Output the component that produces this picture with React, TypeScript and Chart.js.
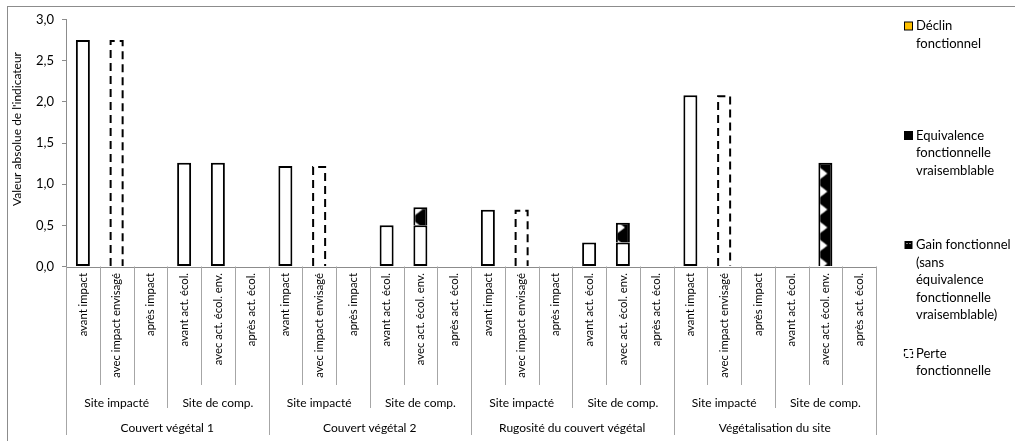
import React, { useEffect, useRef } from "react";
import { Chart, registerables } from "chart.js";
Chart.register(...registerables);

const impactStates = ["avant impact", "avec impact envisagé", "après impact"];
const compStates = ["avant act. écol.", "avec act. écol. env.", "après act. écol."];
const siteLabels = ["Site impacté", "Site de comp."];
const groupLabels = [
  "Couvert végétal 1",
  "Couvert végétal 2",
  "Rugosité du couvert végétal",
  "Végétalisation du site",
];
const yTickValues = [0, 0.5, 1, 1.5, 2, 2.5, 3];
const yTitle = "Valeur absolue de l'indicateur";

// 24 bars: 4 groups x 2 sites x 3 states
const baseValues = [
  2.75, null, null, 1.26, 1.26, null,
  1.22, null, null, 0.5, 0.5, null,
  0.69, null, null, 0.29, 0.29, null,
  2.08, null, null, null, null, null,
];
const perteValues = [
  null, 2.75, null, null, null, null,
  null, 1.22, null, null, null, null,
  null, 0.69, null, null, null, null,
  null, 2.08, null, null, null, null,
];
const gainValues = [
  null, null, null, null, null, null,
  null, null, null, null, 0.22, null,
  null, null, null, null, 0.24, null,
  null, null, null, null, 1.26, null,
];
const equivalenceValues = [
  null, null, null, null, null, null,
  null, null, null, null, null, null,
  null, null, null, null, null, null,
  null, null, null, null, null, null,
];
const declinValues = [
  null, null, null, null, null, null,
  null, null, null, null, null, null,
  null, null, null, null, null, null,
  null, null, null, null, null, null,
];

const declinLines = ["Déclin", "fonctionnel"];
const equivalenceLines = ["Equivalence", "fonctionnelle", "vraisemblable"];
const gainLines = ["Gain fonctionnel", "(sans", "équivalence", "fonctionnelle", "vraisemblable)"];
const perteLines = ["Perte", "fonctionnelle"];

const FONT = "Lato, 'Open Sans', sans-serif";
const GRAY = "#8c8c8c";
const SEP = "#a6a6a6";

function makeGainPattern(ctx: CanvasRenderingContext2D, x: number, y: number) {
  const c = document.createElement("canvas");
  c.width = 14;
  c.height = 18;
  const g = c.getContext("2d")!;
  g.fillStyle = "#000";
  g.fillRect(0, 0, 14, 18);
  g.fillStyle = "#fff";
  g.beginPath();
  g.moveTo(0, 3);
  g.lineTo(9, 10);
  g.lineTo(0, 17);
  g.closePath();
  g.fill();
  const p = ctx.createPattern(c, "repeat")!;
  if ((p as any).setTransform) p.setTransform(new DOMMatrix().translate(x, y));
  return p;
}

const categories: string[][] = [];
groupLabels.forEach((gl) => {
  impactStates.forEach((st) => categories.push([st, siteLabels[0], gl]));
  compStates.forEach((st) => categories.push([st, siteLabels[1], gl]));
});

const chromePlugin = {
  id: "chrome",
  beforeDraw(chart: any) {
    const ctx = chart.ctx;
    ctx.save();
    ctx.fillStyle = "#fff";
    ctx.fillRect(0, 0, chart.width, chart.height);
    ctx.strokeStyle = GRAY;
    ctx.lineWidth = 1;
    ctx.strokeRect(7.5, 6.5, 1200, 600);
    ctx.restore();
  },
  beforeDatasetsDraw(chart: any) {
    const ctx = chart.ctx;
    const { left, right, bottom } = chart.chartArea;
    ctx.save();
    ctx.strokeStyle = GRAY;
    ctx.lineWidth = 1;
    ctx.beginPath();
    ctx.moveTo(left, Math.round(bottom) + 0.5);
    ctx.lineTo(right, Math.round(bottom) + 0.5);
    ctx.stroke();
    ctx.restore();
  },
  afterDatasetsDraw(chart: any) {
    const ctx = chart.ctx;
    // dashed "Perte fonctionnelle" bars
    chart.data.datasets.forEach((ds: any, di: number) => {
      if (!ds.dashed) return;
      const meta = chart.getDatasetMeta(di);
      meta.data.forEach((el: any, i: number) => {
        if (ds.data[i] == null) return;
        const { x, y, base, width } = el.getProps(["x", "y", "base", "width"], true);
        const l = x - width / 2 + 1;
        const r = x + width / 2 - 1;
        const t = y + 1;
        ctx.save();
        ctx.strokeStyle = "#000";
        ctx.lineWidth = 2;
        ctx.setLineDash([8, 5]);
        ctx.beginPath();
        ctx.moveTo(l, base);
        ctx.lineTo(l, t);
        ctx.lineTo(r, t);
        ctx.lineTo(r, base);
        ctx.stroke();
        ctx.restore();
      });
    });

    // multi-level category axis
    const xs = chart.scales.x;
    const { left, right, bottom } = chart.chartArea;
    const n = categories.length;
    const w = (right - left) / n;
    ctx.save();
    ctx.strokeStyle = SEP;
    ctx.lineWidth = 1;
    for (let i = 0; i <= n; i++) {
      const bx = Math.round(left + i * w) + 0.5;
      let end = 385;
      if (i % 6 === 0) end = 435;
      else if (i % 3 === 0) end = 408;
      ctx.beginPath();
      ctx.moveTo(bx, bottom);
      ctx.lineTo(bx, end);
      ctx.stroke();
    }
    ctx.fillStyle = "#000";
    ctx.font = `11.3px ${FONT}`;
    categories.forEach((c, i) => {
      const cx = xs.getPixelForValue(i);
      ctx.save();
      ctx.translate(cx, 273);
      ctx.rotate(-Math.PI / 2);
      ctx.textAlign = "right";
      ctx.textBaseline = "middle";
      ctx.fillText(c[0], 0, 0);
      ctx.restore();
    });
    ctx.font = `12px ${FONT}`;
    ctx.textAlign = "center";
    ctx.textBaseline = "middle";
    for (let s = 0; s < n / 3; s++) {
      const cx = (xs.getPixelForValue(s * 3) + xs.getPixelForValue(s * 3 + 2)) / 2;
      ctx.fillText(categories[s * 3][1], cx, 403);
    }
    for (let g = 0; g < n / 6; g++) {
      const cx = (xs.getPixelForValue(g * 6) + xs.getPixelForValue(g * 6 + 5)) / 2;
      ctx.fillText(categories[g * 6][2], cx, 428);
    }
    // y axis title
    ctx.save();
    ctx.translate(17, 129);
    ctx.rotate(-Math.PI / 2);
    ctx.font = `12px ${FONT}`;
    ctx.fillText(yTitle, 0, 0);
    ctx.restore();
    ctx.restore();
  },
  afterDraw(chart: any) {
    const ctx = chart.ctx;
    const items = chart.data.datasets.filter((d: any) => d.legendLines).slice().reverse();
    const tops = [26, 135.5, 245, 353.5];
    const lh = 17.5;
    ctx.save();
    ctx.font = `13px ${FONT}`;
    ctx.textAlign = "left";
    ctx.textBaseline = "middle";
    items.forEach((ds: any, k: number) => {
      const y0 = tops[k];
      const mx = 904.5;
      const my = y0 - 4;
      if (ds.dashed) {
        ctx.fillStyle = "#fff";
        ctx.fillRect(mx, my, 8, 8);
        ctx.strokeStyle = "#000";
        ctx.lineWidth = 1.2;
        ctx.setLineDash([3, 2]);
        ctx.strokeRect(mx, my, 8, 8);
        ctx.setLineDash([]);
      } else if (ds.patterned) {
        ctx.fillStyle = "#000";
        ctx.fillRect(mx, my, 8, 8);
        ctx.fillStyle = "#fff";
        ctx.fillRect(mx + 2, my + 2, 1, 1);
        ctx.fillRect(mx + 5, my + 2, 1, 1);
      } else {
        ctx.fillStyle = ds.backgroundColor;
        ctx.fillRect(mx, my, 8, 8);
        ctx.strokeStyle = "#000";
        ctx.lineWidth = 1;
        ctx.strokeRect(mx, my, 8, 8);
      }
      ctx.fillStyle = "#000";
      ds.legendLines.forEach((ln: string, j: number) => {
        ctx.fillText(ln, 916, y0 + j * lh);
      });
    });
    ctx.restore();
  },
};

export default function App() {
  const ref = useRef<HTMLCanvasElement | null>(null);
  useEffect(() => {
    const canvas = ref.current!;
    const chart = new Chart(canvas, {
      type: "bar",
      data: {
        labels: categories.map((c) => c[0]),
        datasets: [
          {
            label: "Valeur",
            data: baseValues,
            backgroundColor: "#fff",
            borderColor: "#000",
            borderWidth: 2,
            borderSkipped: false,
          } as any,
          {
            label: perteLines.join(" "),
            legendLines: perteLines,
            dashed: true,
            data: perteValues,
            backgroundColor: "rgba(255,255,255,0)",
            borderWidth: 0,
          } as any,
          {
            label: gainLines.join(" "),
            legendLines: gainLines,
            patterned: true,
            data: gainValues,
            backgroundColor: (c: any) => {
              const chart = c.chart;
              if (!chart.chartArea || !chart.scales.x) return "#000";
              const x = chart.scales.x.getPixelForValue(c.dataIndex) - 7;
              return makeGainPattern(chart.ctx, x, chart.chartArea.top);
            },
            borderColor: "#000",
            borderWidth: 2,
            borderSkipped: "start",
          } as any,
          {
            label: equivalenceLines.join(" "),
            legendLines: equivalenceLines,
            data: equivalenceValues,
            backgroundColor: "#000",
            borderColor: "#000",
            borderWidth: 1,
          } as any,
          {
            label: declinLines.join(" "),
            legendLines: declinLines,
            data: declinValues,
            backgroundColor: "#FFC000",
            borderColor: "#000",
            borderWidth: 1,
          } as any,
        ],
      },
      options: {
        animation: false,
        responsive: false,
        devicePixelRatio: 1,
        layout: { padding: { top: 19.5, right: 139, bottom: 174.5, left: 0 } },
        datasets: { bar: { barPercentage: 0.415, categoryPercentage: 1 } },
        plugins: {
          legend: { display: false },
          tooltip: { enabled: false },
        },
        scales: {
          x: { display: false, stacked: true, offset: true },
          y: {
            stacked: true,
            min: 0,
            max: 3,
            afterFit: (s: any) => {
              s.width = 66;
            },
            afterBuildTicks: (s: any) => {
              s.ticks = yTickValues.map((v) => ({ value: v }));
            },
            ticks: {
              callback: (v: any) => Number(v).toFixed(1).replace(".", ","),
              font: { family: FONT, size: 13 },
              color: "#000",
              padding: 8,
            },
            grid: {
              drawOnChartArea: false,
              drawTicks: true,
              tickLength: 4,
              color: GRAY,
            },
            border: { color: GRAY, width: 1 },
          },
        },
      },
      plugins: [chromePlugin],
    });
    return () => chart.destroy();
  }, []);
  return (
    <div style={{ position: "absolute", left: 0, top: 0, width: 1015, height: 441 }}>
      <canvas ref={ref} width={1015} height={441} style={{ display: "block" }} />
    </div>
  );
}
